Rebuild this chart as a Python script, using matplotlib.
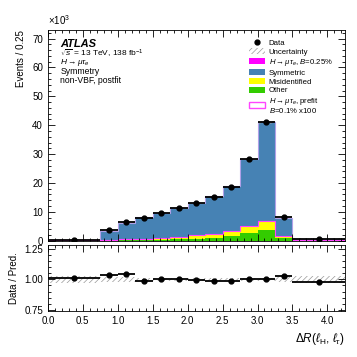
import numpy as np
import matplotlib
matplotlib.use("Agg")
import matplotlib.pyplot as plt
from matplotlib.patches import Patch
from matplotlib.lines import Line2D
from matplotlib.ticker import MultipleLocator, FuncFormatter

plt.rcParams['font.family'] = ['Liberation Sans', 'DejaVu Sans']
plt.rcParams['mathtext.fontset'] = 'custom'
plt.rcParams['mathtext.rm'] = 'Liberation Sans'
plt.rcParams['mathtext.it'] = 'Liberation Sans:italic'
plt.rcParams['mathtext.bf'] = 'Liberation Sans:bold'
plt.rcParams['hatch.linewidth'] = 0.5
plt.rcParams['hatch.color'] = '#999999'

# bin edges in Delta R
edges = np.array([0.0, 0.75, 1.0, 1.25, 1.5, 1.75, 2.0, 2.25, 2.5, 2.75, 3.0, 3.25, 3.5, 4.25])

# events / 0.25
data = np.array([350, 3600, 6500, 8000, 9700, 11200, 12900, 15200, 18700, 28300, 41000, 8100, 700])
ratio = np.array([1.015, 1.04, 1.045, 0.99, 1.003, 1.003, 0.998, 0.99, 0.99, 1.005, 1.0, 1.03, 0.98])
other = np.array([100, 150, 200, 250, 300, 400, 500, 900, 1750, 2700, 3700, 800, 100])
misid = np.array([50, 100, 150, 200, 400, 750, 1250, 1350, 1200, 2150, 2700, 550, 80])
signal = np.array([10, 30, 60, 80, 100, 120, 150, 180, 220, 300, 350, 120, 20])
prefit_x100 = np.array([160, 280, 410, 530, 800, 1270, 1900, 2430, 3170, 5150, 6750, 1470, 200])
unc_rel = np.array([0.03, 0.02, 0.02, 0.01, 0.01, 0.01, 0.01, 0.01, 0.01, 0.01, 0.01, 0.02, 0.03])

pred = data / ratio
symmetric = pred - other - misid - signal
centers = 0.5 * (edges[1:] + edges[:-1])
halfw = 0.5 * (edges[1:] - edges[:-1])

fig = plt.figure(figsize=(3.57, 3.57), dpi=100)
ax = fig.add_axes([0.134, 0.326, 0.832, 0.590])
rax = fig.add_axes([0.134, 0.129, 0.832, 0.185])

# stacked backgrounds
base = np.zeros(len(data))
for vals, col in [(other, '#33cc00'), (misid, '#ffff00'), (signal, '#ff00ff'), (symmetric, '#4682b4')]:
    ax.stairs(base + vals, edges, baseline=base, fill=True, color=col, lw=0)
    base = base + vals
ax.stairs(pred, edges, color='#b0a0e8', lw=0.8)
ax.stairs(prefit_x100, edges, color='#ff44ff', lw=0.8)
ax.stairs(pred * (1 + unc_rel), edges, baseline=pred * (1 - unc_rel), fill=True,
          facecolor='none', edgecolor='#999999', hatch='//////', lw=0)

ax.errorbar(centers, data, xerr=halfw, yerr=np.sqrt(data), fmt='o', color='black',
            ms=3.5, lw=1.3, capsize=0)

ax.set_xlim(0, 4.25)
ax.set_ylim(0, 73000)
ax.yaxis.set_major_locator(MultipleLocator(10000))
ax.yaxis.set_minor_locator(MultipleLocator(2000))
ax.yaxis.set_major_formatter(FuncFormatter(lambda v, p: f"{v/1000:.0f}"))
ax.set_ylabel('Events / 0.25', fontsize=7, loc='top')
ax.text(0.0, 1.015, r'$\times10^{3}$', transform=ax.transAxes, fontsize=7, va='bottom')

ax.text(0.042, 0.934, 'ATLAS', transform=ax.transAxes, fontsize=8, fontweight='bold',
        fontstyle='italic', va='center')
ax.text(0.042, 0.888, r'$\sqrt{s}$ = 13 TeV, 138 fb$^{-1}$', transform=ax.transAxes, fontsize=6.0, va='center')
ax.text(0.042, 0.844, r'$H\rightarrow\mu\tau_{e}$', transform=ax.transAxes, fontsize=6.0, va='center')
ax.text(0.042, 0.801, 'Symmetry', transform=ax.transAxes, fontsize=6.2, va='center')
ax.text(0.042, 0.760, 'non-VBF, postfit', transform=ax.transAxes, fontsize=6.2, va='center')

handles = [
    Line2D([], [], marker='o', color='black', ms=3.5, ls='none'),
    Patch(facecolor='none', edgecolor='#999999', hatch='//////', lw=0),
    Patch(facecolor='#ff00ff'),
    Patch(facecolor='#4682b4'),
    Patch(facecolor='#ffff00'),
    Patch(facecolor='#33cc00'),
    Patch(facecolor='white', edgecolor='#ff44ff', lw=1.0),
]
labels = ['Data', 'Uncertainty', r'$H\rightarrow\mu\tau_{e}$, $B$=0.25%',
          'Symmetric', 'Misidentified', 'Other',
          '$H\\rightarrow\\mu\\tau_{e}$, prefit\n$B$=0.1% x100']
leg = ax.legend(handles, labels, loc='upper left', bbox_to_anchor=(0.698, 0.89),
                bbox_transform=fig.transFigure, frameon=False, fontsize=5.6,
                handlelength=2.0, handleheight=0.8, handletextpad=0.5, labelspacing=0.15,
                borderpad=0, borderaxespad=0)
leg.get_texts()[-1].set_linespacing(0.85)

# ratio panel
rax.stairs(1 + unc_rel, edges, baseline=1 - unc_rel, fill=True, facecolor='none',
           edgecolor='#999999', hatch='//////', lw=0)
rax.errorbar(centers, ratio, xerr=halfw, fmt='o', color='black', ms=3.5, lw=1.3, capsize=0)
rax.set_xlim(0, 4.25)
rax.set_ylim(0.74, 1.285)
rax.yaxis.set_major_locator(MultipleLocator(0.25))
rax.yaxis.set_minor_locator(MultipleLocator(0.05))
rax.yaxis.set_major_formatter(FuncFormatter(lambda v, p: f"{v:.2f}"))
rax.set_ylabel('Data / Pred.', fontsize=7)
rax.set_xlabel(r'$\Delta R(\ell_{\mathrm{H}},\, \ell_{\tau})$', fontsize=8.5, loc='right')

for a in (ax, rax):
    a.xaxis.set_major_locator(MultipleLocator(0.5))
    a.xaxis.set_minor_locator(MultipleLocator(0.1))
    a.tick_params(which='both', direction='in', top=True, right=True, labelsize=7)
    a.tick_params(which='major', length=5, width=0.6)
    a.tick_params(which='minor', length=2.5, width=0.6)
    for s in a.spines.values():
        s.set_linewidth(0.6)
ax.tick_params(labelbottom=False)
rax.xaxis.set_major_formatter(FuncFormatter(lambda v, p: f"{v:.1f}"))
ax.yaxis.set_label_coords(-0.072, 1.0)
rax.yaxis.set_label_coords(-0.098, 0.5)

fig.savefig('out.png', dpi=100)
